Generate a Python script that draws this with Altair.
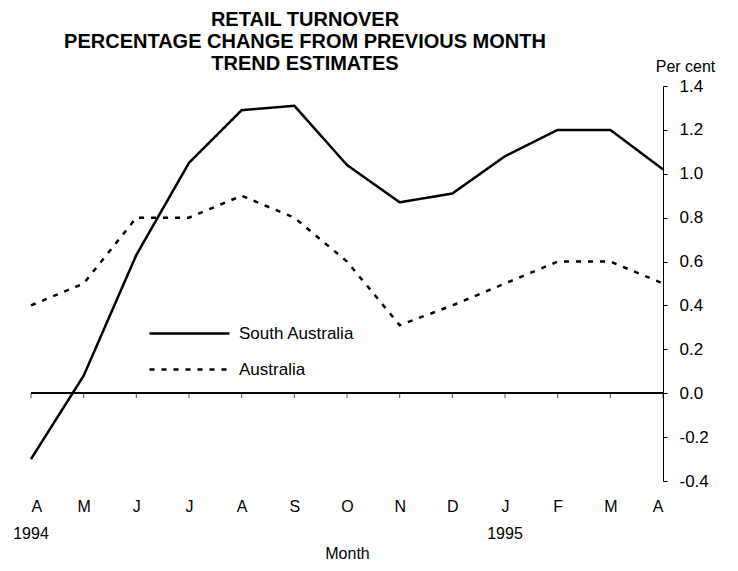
import altair as alt
import pandas as pd

months = ["A", "M", "J", "J", "A", "S", "O", "N", "D", "J", "F", "M", "A"]
south_australia = [-0.30, 0.08, 0.63, 1.05, 1.29, 1.31, 1.04, 0.87, 0.91, 1.08, 1.20, 1.20, 1.02]
australia = [0.40, 0.50, 0.80, 0.80, 0.90, 0.80, 0.60, 0.31, 0.40, 0.50, 0.60, 0.60, 0.50]
year_pos = [0, 9]
year_text = ["1994", "1995"]
y_ticks = [-0.4, -0.2, 0.0, 0.2, 0.4, 0.6, 0.8, 1.0, 1.2, 1.4]

rows = []
for i, v in enumerate(south_australia):
    rows.append({"i": i, "value": v, "series": "South Australia"})
for i, v in enumerate(australia):
    rows.append({"i": i, "value": v, "series": "Australia"})
df = pd.DataFrame(rows)
ticks_df = pd.DataFrame({"i": list(range(len(months))), "zero": [0.0] * len(months)})
years_df = pd.DataFrame({"i": year_pos, "label": year_text})

FONT = "Liberation Sans"
W, H = 632, 395

label_expr = "[" + ",".join(f"'{m}'" for m in months) + "][datum.value]"

xscale = alt.Scale(domain=[0, len(months) - 1], nice=False, zero=False)
yscale = alt.Scale(domain=[-0.4, 1.4], nice=False, zero=False)

lines = alt.Chart(df).mark_line(color="black", strokeWidth=2.5).encode(
    x=alt.X("i:Q", scale=xscale,
            axis=alt.Axis(values=list(range(len(months))), labelExpr=label_expr,
                          domain=False, ticks=False, grid=False, labelFontSize=16,
                          labelPadding=17, title="Month", titleFontSize=16,
                          titleFontWeight="normal", titlePadding=31, labelColor="black",
                          titleColor="black")),
    y=alt.Y("value:Q", scale=yscale,
            axis=alt.Axis(orient="right", values=y_ticks,
                          labelExpr="replace(format(datum.value, '.1f'), '\u2212', '-')",
                          grid=False,
                          tickSize=4, tickColor="black", domainColor="black",
                          labelFontSize=17, labelPadding=12, labelColor="black",
                          title="Per cent", titleAngle=0, titleFontSize=16,
                          titleFontWeight="normal", titleX=22, titleY=-12,
                          titleAlign="center", titleBaseline="bottom",
                          titleColor="black")),
    strokeDash=alt.StrokeDash(
        "series:N",
        scale=alt.Scale(domain=["South Australia", "Australia"], range=[[1, 0], [5, 7]]),
        legend=alt.Legend(title=None, orient="none", legendX=147, legendY=236,
                          symbolType="M-4,0H4", symbolSize=400, symbolStrokeWidth=2.5,
                          symbolStrokeColor="black", labelFontSize=17, labelOffset=38,
                          rowPadding=16, labelColor="black")),
)

zero_rule = alt.Chart(ticks_df).mark_rule(color="black", strokeWidth=1).encode(
    y=alt.Y("zero:Q", scale=yscale),
)
zero_ticks = alt.Chart(ticks_df).mark_tick(color="black", orient="vertical", size=5,
                                            thickness=1, yOffset=2.5).encode(
    x=alt.X("i:Q", scale=xscale),
    y=alt.Y("zero:Q", scale=yscale),
)
years = alt.Chart(years_df).mark_text(fontSize=16, font=FONT, color="black",
                                      baseline="middle").encode(
    x=alt.X("i:Q", scale=xscale),
    y=alt.value(H + 53),
    text="label:N",
)

chart = alt.layer(zero_rule, zero_ticks, lines, years).properties(
    width=W, height=H,
    autosize=alt.AutoSizeParams(type="none"),
    title=alt.Title(["RETAIL TURNOVER", "PERCENTAGE CHANGE FROM PREVIOUS MONTH",
                     "TREND ESTIMATES"], fontSize=20, fontWeight="bold", font=FONT,
                    anchor="middle", dx=-42, offset=-16, lineHeight=22, color="black"),
    padding={"left": 23, "top": 78, "right": 60, "bottom": 82},
).configure(font=FONT).configure_view(stroke=None).configure_axis(
    labelFont=FONT, titleFont=FONT
).configure_legend(labelFont=FONT)

chart.save("out.html", embed_options={"renderer": "svg", "actions": False})
